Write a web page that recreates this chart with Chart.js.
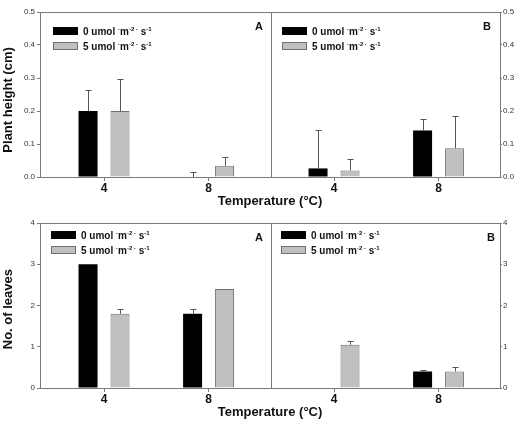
<!DOCTYPE html>
<html>
<head>
<meta charset="utf-8">
<script src="https://cdn.jsdelivr.net/npm/chart.js@4"></script>
<style>
  body { margin: 0; background: #fff; }
  #wrap { position: relative; width: 514px; height: 421px; font-family: 'Liberation Sans', Arial, sans-serif; }
  canvas { position: absolute; left: 0; }
  .lg { position: absolute; font-size: 10px; font-weight: bold; color: #111; }
  .lg .row { display: flex; align-items: center; height: 8px; margin-bottom: 7px; white-space: nowrap; }
  .lg .box { width: 25px; height: 8px; box-sizing: border-box; margin-right: 5px; }
  .lg .black { background: #000; }
  .lg .grey { background: #c0c0c0; border: 1px solid #707070; }
  .lg sup { font-size: 6px; vertical-align: 4px; line-height: 0; }
  .pl { position: absolute; font-size: 11px; font-weight: bold; color: #111; }
</style>
</head>
<body>
<div id="wrap">
  <canvas id="heightChart" width="514" height="210" style="top:0"></canvas>
  <canvas id="leavesChart" width="514" height="210" style="top:211px"></canvas>
</div>
<script>
// temperatures (categories) and the two light levels
const temps = [4, 8];
const seriesNames = ["0 umol", "5 umol"];
const panels = ["A", "B"];

// Plant height (cm)
const heightA0 = [0.20, 0.0];
const heightA0Err = [0.063, 0.014];
const heightA5 = [0.20, 0.034];
const heightA5Err = [0.097, 0.026];
const heightB0 = [0.026, 0.141];
const heightB0Err = [0.115, 0.034];
const heightB5 = [0.020, 0.087];
const heightB5Err = [0.035, 0.097];
const heightTicks = [0, 0.1, 0.2, 0.3, 0.4, 0.5];

// No. of leaves
const leavesA0 = [3.0, 1.8];
const leavesA0Err = [0, 0.12];
const leavesA5 = [1.8, 2.4];
const leavesA5Err = [0.12, 0];
const leavesB0 = [0, 0.4];
const leavesB0Err = [0, 0.035];
const leavesB5 = [1.05, 0.4];
const leavesB5Err = [0.08, 0.12];
const leavesTicks = [0, 1, 2, 3, 4];

// both panels share one linear x axis, panel B is shifted right
const panelShift = 8.8;
const dividerAt = 10.4;
const xPos = temps.concat(temps.map(t => t + panelShift));

const FONT = "'Liberation Sans', Arial, sans-serif";
const AXIS = '#7a7a7a';

// error bars, upper half only
const errorBars = {
    id: 'errorBars',
    afterDatasetsDraw(chart) {
        const ctx = chart.ctx;
        const y = chart.scales.y;
        ctx.save();
        ctx.strokeStyle = '#555';
        ctx.lineWidth = 1;
        chart.data.datasets.forEach((ds, di) => {
            const meta = chart.getDatasetMeta(di);
            meta.data.forEach((bar, i) => {
                const err = ds.errors[i];
                if (!err) return;
                const top = Math.round(y.getPixelForValue(ds.data[i].y + err)) + 0.5;
                const x = Math.round(bar.x) + 0.5;
                ctx.beginPath();
                ctx.moveTo(x, bar.y);
                ctx.lineTo(x, top);
                ctx.moveTo(x - 3, top);
                ctx.lineTo(x + 3, top);
                ctx.stroke();
            });
        });
        ctx.restore();
    }
};

// top border and the line between panels A and B
const frame = {
    id: 'frame',
    afterDraw(chart) {
        const {ctx, chartArea} = chart;
        const xd = Math.round(chart.scales.x.getPixelForValue(dividerAt)) + 0.5;
        ctx.save();
        ctx.strokeStyle = AXIS;
        ctx.lineWidth = 1;
        ctx.beginPath();
        ctx.moveTo(chartArea.left, chartArea.top + 0.5);
        ctx.lineTo(chartArea.right, chartArea.top + 0.5);
        ctx.moveTo(xd, chartArea.top);
        ctx.lineTo(xd, chartArea.bottom);
        ctx.stroke();
        ctx.restore();
    }
};

function points(a, b) {
    return a.concat(b).map((v, i) => ({x: xPos[i], y: v}));
}

function yAxis(ticks, fmt, side, title) {
    return {
        type: 'linear',
        position: side,
        min: ticks[0],
        max: ticks[ticks.length - 1],
        afterBuildTicks: s => { s.ticks = ticks.map(v => ({value: v})); },
        afterFit: s => { s.width = side === 'left' ? 40 : 14; },
        ticks: {
            callback: v => fmt(v),
            font: {family: FONT, size: 8},
            color: '#333',
            padding: side === 'left' ? 2 : 1
        },
        grid: {display: true, drawOnChartArea: false, offset: false, tickLength: side === 'left' ? 3 : 2, color: AXIS},
        border: {color: AXIS},
        title: {
            display: !!title,
            text: title,
            font: {family: FONT, size: 13, weight: 'bold'},
            color: '#111',
            padding: {top: 1, bottom: 0}
        }
    };
}

function makeChart(id, yTitle, ticks, fmt, A0, A0e, A5, A5e, B0, B0e, B5, B5e) {
    return new Chart(document.getElementById(id), {
        type: 'bar',
        data: {
            datasets: [
                {
                    label: seriesNames[0],
                    data: points(A0, B0),
                    errors: A0e.concat(B0e),
                    backgroundColor: '#000',
                    borderWidth: 0
                },
                {
                    label: seriesNames[1],
                    data: points(A5, B5),
                    errors: A5e.concat(B5e),
                    backgroundColor: '#c0c0c0',
                    borderColor: '#707070',
                    borderWidth: 1
                }
            ]
        },
        options: {
            responsive: false,
            animation: false,
            categoryPercentage: 0.612,
            barPercentage: 0.594,
            layout: {padding: {top: 12, left: 0, right: 0, bottom: 0}},
            plugins: {legend: {display: false}, tooltip: {enabled: false}},
            scales: {
                x: {
                    type: 'linear',
                    min: 1.55,
                    max: 19.15,
                    offset: false,
                    afterBuildTicks: s => { s.ticks = xPos.map(v => ({value: v})); },
                    afterFit: s => { s.height = 33; },
                    ticks: {
                        callback: (v, i) => String(temps[i % temps.length]),
                        font: {family: FONT, size: 12, weight: 'bold'},
                        color: '#111',
                        padding: 0,
                        maxRotation: 0,
                        autoSkip: false
                    },
                    grid: {display: true, drawOnChartArea: false, offset: false, tickLength: 4, color: AXIS},
                    border: {color: AXIS},
                    title: {
                        display: true,
                        text: 'Temperature (°C)',
                        font: {family: FONT, size: 13, weight: 'bold'},
                        color: '#111',
                        padding: {top: 0, bottom: 1}
                    }
                },
                y: yAxis(ticks, fmt, 'left', yTitle),
                y2: yAxis(ticks, fmt, 'right', '')
            }
        },
        plugins: [errorBars, frame]
    });
}

// trailing spaces nudge the rotated titles down a little, as in the original
makeChart('heightChart', 'Plant height (cm)   ', heightTicks, v => v.toFixed(1),
    heightA0, heightA0Err, heightA5, heightA5Err, heightB0, heightB0Err, heightB5, heightB5Err);
makeChart('leavesChart', 'No. of leaves  ', leavesTicks, v => String(v),
    leavesA0, leavesA0Err, leavesA5, leavesA5Err, leavesB0, leavesB0Err, leavesB5, leavesB5Err);

// legends and panel letters, placed inside each panel
const unitHtml = ' <sup>·</sup>m<sup>-2 ·</sup> s<sup>-1</sup>';
function addLegend(left, top) {
    const div = document.createElement('div');
    div.className = 'lg';
    div.style.left = left + 'px';
    div.style.top = top + 'px';
    div.innerHTML = seriesNames.map((n, i) =>
        `<div class="row"><span class="box ${i ? 'grey' : 'black'}"></span><span>${n}${unitHtml}</span></div>`
    ).join('');
    document.getElementById('wrap').appendChild(div);
}
function addLetter(text, left, top) {
    const d = document.createElement('div');
    d.className = 'pl';
    d.textContent = text;
    d.style.left = left + 'px';
    d.style.top = top + 'px';
    document.getElementById('wrap').appendChild(d);
}
addLegend(53, 27); addLegend(282, 27);
addLegend(51, 231); addLegend(281, 231);
addLetter(panels[0], 255, 20); addLetter(panels[1], 483, 20);
addLetter(panels[0], 255, 231); addLetter(panels[1], 487, 231);
</script>
</body>
</html>
